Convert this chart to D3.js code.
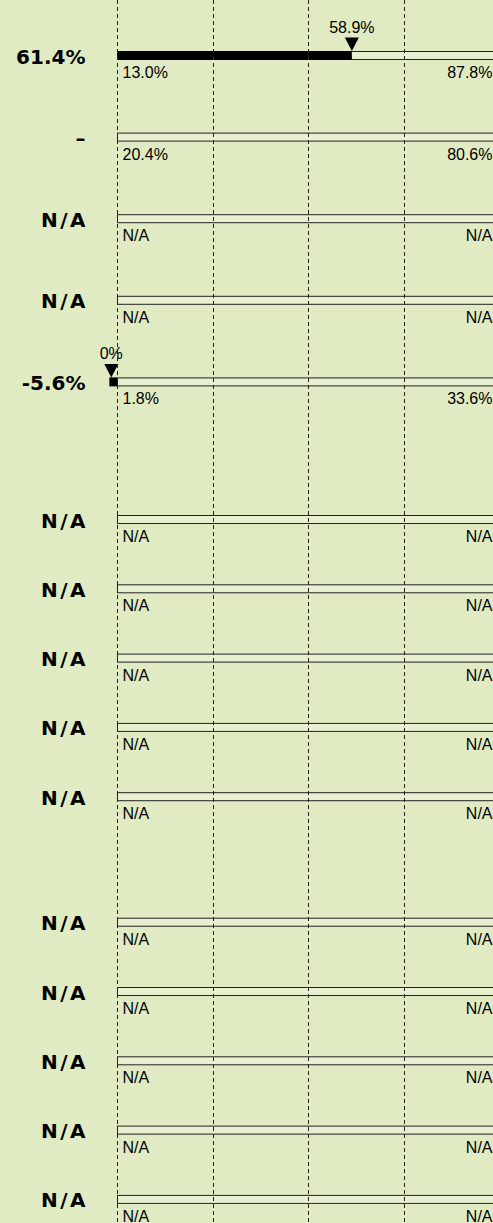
<!DOCTYPE html>
<html>
<head>
<meta charset="utf-8">
<script src="https://cdn.jsdelivr.net/npm/d3@7"></script>
<style>
    html, body { margin: 0; padding: 0; background: #e1ebc3; }
    svg { display: block; }
    .row_label { font-family: "DejaVu Sans", Verdana, sans-serif; font-weight: bold; font-size: 20px; }
    .small_label { font-family: "Liberation Sans", Arial, sans-serif; font-size: 16px; }
</style>
</head>
<body>
<svg id="chart_bullets"></svg>
<script>

// row values, top to bottom (three groups of five)
const row_labels = ["61.4%", "–", "N/A", "N/A", "-5.6%",
    "N/A", "N/A", "N/A", "N/A", "N/A",
    "N/A", "N/A", "N/A", "N/A", "N/A"];
const row_group = [0, 0, 0, 0, 0, 1, 1, 1, 1, 1, 2, 2, 2, 2, 2];
const bar_values = [61.4, null, null, null, -2.0,
    null, null, null, null, null,
    null, null, null, null, null];
const marker_values = [61.4, null, null, null, -1.5,
    null, null, null, null, null,
    null, null, null, null, null];
const marker_labels = ["58.9%", null, null, null, "0%",
    null, null, null, null, null,
    null, null, null, null, null];
const min_labels = ["13.0%", "20.4%", "N/A", "N/A", "1.8%",
    "N/A", "N/A", "N/A", "N/A", "N/A",
    "N/A", "N/A", "N/A", "N/A", "N/A"];
const max_labels = ["87.8%", "80.6%", "N/A", "N/A", "33.6%",
    "N/A", "N/A", "N/A", "N/A", "N/A",
    "N/A", "N/A", "N/A", "N/A", "N/A"];
const grid_ticks = [0, 25, 50, 75, 100];

const width = 493, height = 1223;
const bar_h = 8;

// layout of the three groups
const group_top = [51, 515, 917.7],
    group_step = [81.6, 69.3, 69.3];

const data = row_labels.map(function (d, i) {
    return {
        label: d,
        group: row_group[i],
        bar: bar_values[i],
        marker: marker_values[i],
        markerText: marker_labels[i],
        min: min_labels[i],
        max: max_labels[i]
    };
});
// index within group
data.forEach(function (d, i) {
    d.idx = i - row_group.indexOf(d.group);
});

const svg = d3.select("#chart_bullets")
    .attr("width", width)
    .attr("height", height);

const xScale = d3.scaleLinear().domain([0, 100]).range([117, 499.5]);
const yScales = group_top.map(function (t, g) {
    return d3.scaleLinear().domain([0, 4]).range([t, t + 4 * group_step[g]]);
});
function yTop(d) { return yScales[d.group](d.idx); }

const rows = svg.selectAll(".row")
    .data(data)
    .enter().append("g")
    .attr("class", "row")
    .attr("transform", function (d) { return "translate(0," + yTop(d) + ")"; });

// empty bar
rows.append("rect")
    .attr("x", xScale(0) + 0.5)
    .attr("y", 0.5)
    .attr("width", xScale(100) - xScale(0))
    .attr("height", bar_h)
    .attr("fill", "#e8f0d2")
    .attr("stroke", "#222")
    .attr("stroke-width", 1);

// value bar
rows.filter(function (d) { return d.bar !== null; })
    .append("rect")
    .attr("x", function (d) { return xScale(Math.min(0, d.bar)); })
    .attr("y", 0)
    .attr("width", function (d) { return Math.abs(xScale(d.bar) - xScale(0)); })
    .attr("height", bar_h + 1)
    .attr("fill", "#000");

// grid lines
svg.selectAll(".grid")
    .data(grid_ticks)
    .enter().append("line")
    .attr("class", "grid")
    .attr("x1", function (d) { return Math.round(xScale(d)) + 0.5; })
    .attr("x2", function (d) { return Math.round(xScale(d)) + 0.5; })
    .attr("y1", 0)
    .attr("y2", height)
    .attr("stroke", "#222")
    .attr("stroke-width", 1)
    .attr("stroke-dasharray", "4,3");

// marker triangle + label
const marked = rows.filter(function (d) { return d.marker !== null; });
marked.append("path")
    .attr("d", function (d) {
        const x = xScale(d.marker);
        return "M" + (x - 7) + "," + (-13.5) + "L" + (x + 7) + "," + (-13.5) + "L" + x + ",0Z";
    })
    .attr("fill", "#000");
marked.append("text")
    .attr("class", "small_label")
    .attr("x", function (d) { return xScale(d.marker); })
    .attr("y", -18.5)
    .attr("text-anchor", "middle")
    .text(function (d) { return d.markerText; });

// left labels (N/A is set wider, like the original face)
rows.append("text")
    .attr("class", "row_label")
    .attr("x", function (d) { return d.label === "N/A" ? 88 : 85.5; })
    .attr("y", 12.5)
    .attr("text-anchor", "end")
    .style("letter-spacing", function (d) { return d.label === "N/A" ? "2.5px" : null; })
    .text(function (d) { return d.label; });

// min / max labels
rows.append("text")
    .attr("class", "small_label")
    .attr("x", 122.5)
    .attr("y", 27)
    .text(function (d) { return d.min; });

rows.append("text")
    .attr("class", "small_label")
    .attr("x", 492.5)
    .attr("y", 27)
    .attr("text-anchor", "end")
    .text(function (d) { return d.max; });

</script>
</body>
</html>
